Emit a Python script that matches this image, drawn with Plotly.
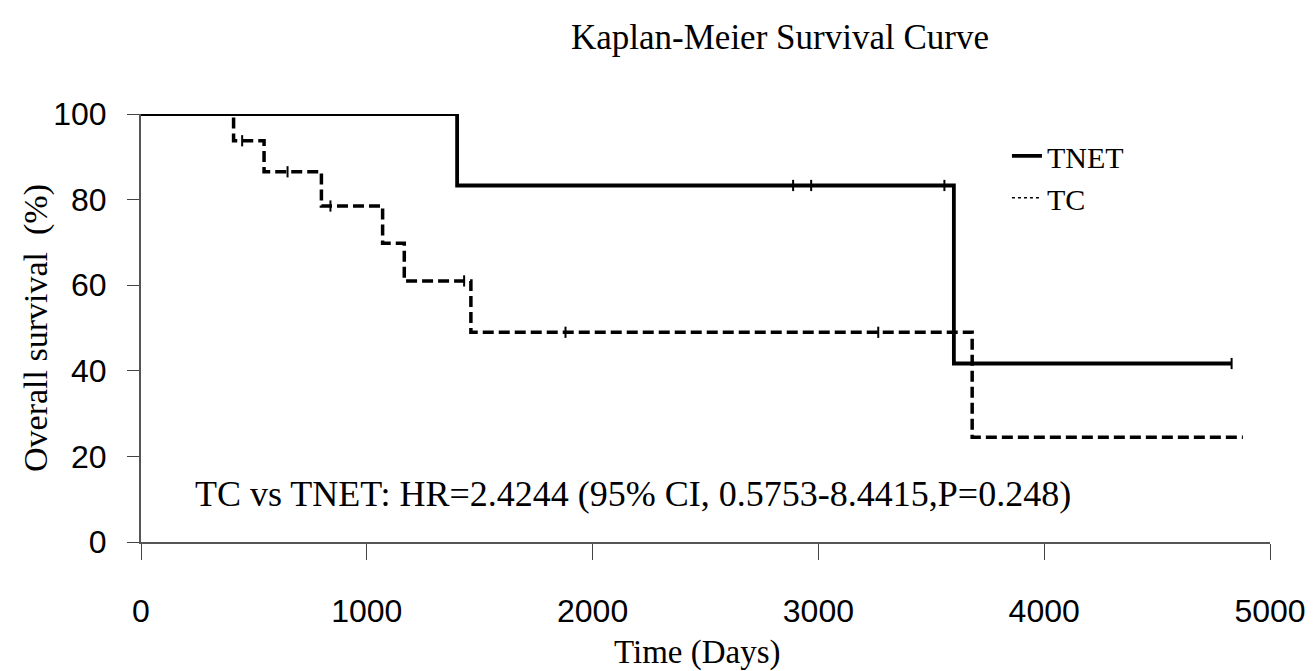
import plotly.graph_objects as go

# ---- data ----
tnet_time = [0, 1400, 3600, 4830]
tnet_surv = [100, 83.3, 41.7, 41.7]
tnet_cens_time = [2888, 2968, 3558, 4830]
tnet_cens_surv = [83.3, 83.3, 83.3, 41.7]

tc_time = [0, 410, 545, 799, 1070, 1166, 1461, 3681, 4880]
tc_surv = [100, 93.75, 86.5, 78.5, 69.8, 61.0, 49.0, 24.5, 24.5]
tc_cens_time = [448, 649, 839, 1431, 1880, 3265]
tc_cens_surv = [93.75, 86.5, 78.5, 61.0, 49.0, 49.0]

x_ticks = [0, 1000, 2000, 3000, 4000, 5000]
y_ticks = [0, 20, 40, 60, 80, 100]

title_text = "Kaplan-Meier Survival Curve"
x_title = "Time (Days)"
y_title = "Overall survival  (%)"
note_text = "TC vs TNET: HR=2.4244 (95% CI, 0.5753-8.4415,P=0.248)"

serif = "Liberation Serif"
sans = "Liberation Sans"

fig = go.Figure()

# TC curve (dashed)
fig.add_trace(go.Scatter(
    x=tc_time, y=tc_surv, mode="lines", line_shape="hv",
    line=dict(color="black", width=3.5, dash="11px,5px"),
    showlegend=False, hoverinfo="skip"))
fig.add_trace(go.Scatter(
    x=tc_cens_time, y=tc_cens_surv, mode="markers",
    marker=dict(symbol="line-ns-open", size=8, color="black",
                line=dict(color="black", width=2)),
    showlegend=False, hoverinfo="skip"))

# TNET curve (solid)
fig.add_trace(go.Scatter(
    x=tnet_time, y=tnet_surv, mode="lines", line_shape="hv",
    line=dict(color="black", width=3.8),
    name="TNET", showlegend=True))
fig.add_trace(go.Scatter(
    x=tnet_cens_time, y=tnet_cens_surv, mode="markers",
    marker=dict(symbol="line-ns-open", size=8, color="black",
                line=dict(color="black", width=2)),
    showlegend=False, hoverinfo="skip"))

# legend entry for TC (dotted, as drawn in the reference legend)
fig.add_trace(go.Scatter(
    x=[None], y=[None], mode="lines",
    line=dict(color="black", width=1.5, dash="dot"),
    name="TC", showlegend=True))

fig.add_annotation(
    text=note_text, xref="paper", yref="paper", x=0.046, y=0.113,
    xanchor="left", yanchor="middle", showarrow=False,
    font=dict(family=serif, size=36, color="black"))

fig.add_annotation(
    text=title_text, xref="paper", yref="paper", x=0.566, y=1.178,
    xanchor="center", yanchor="middle", showarrow=False,
    font=dict(family=serif, size=35, color="black"))

fig.add_annotation(
    text=x_title, xref="paper", yref="paper", x=0.493, y=-0.306,
    xanchor="center", yanchor="bottom", showarrow=False,
    font=dict(family=serif, size=33, color="black"))

fig.add_annotation(
    text=y_title, xref="paper", yref="paper", x=-0.093, y=0.5,
    xanchor="center", yanchor="middle", showarrow=False, textangle=-90,
    font=dict(family=serif, size=34, color="black"))

# page body has an 8px margin: shrink the figure so it fits the 1313x671 window
fig.update_layout(
    width=1305, height=663,
    margin=dict(l=133, r=43, t=106, b=129),
    paper_bgcolor="white", plot_bgcolor="white",
    legend=dict(x=0.767, y=0.963, xanchor="left", yanchor="top",
                font=dict(family=serif, size=30, color="black"),
                bgcolor="rgba(0,0,0,0)", itemwidth=30, tracegroupgap=0),
    xaxis=dict(range=[0, 5000], tickvals=x_ticks, ticks="outside", ticklen=16,
               tickcolor="#444", tickwidth=1.3, showline=True, linecolor="#555",
               linewidth=2, showgrid=False, zeroline=False, automargin=False,
               ticklabelstandoff=24,
               tickfont=dict(family=sans, size=32, color="black")),
    yaxis=dict(range=[0, 100], tickvals=y_ticks, ticks="outside", ticklen=12,
               tickcolor="#444", tickwidth=1.3, showline=True, linecolor="#555",
               linewidth=2, showgrid=False, zeroline=False, automargin=False,
               ticklabelstandoff=14,
               tickfont=dict(family=sans, size=32, color="black")),
)

fig.write_html("out.html")
